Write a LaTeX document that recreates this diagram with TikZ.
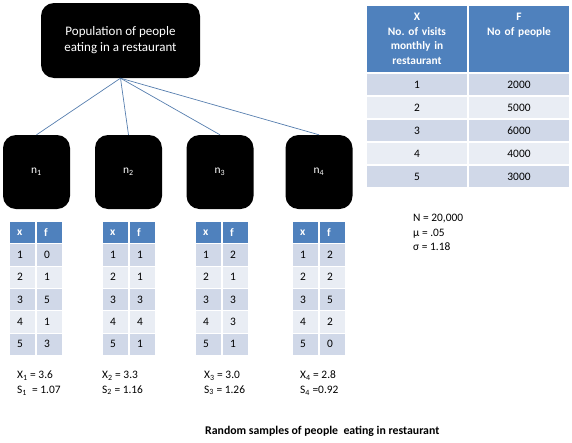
\documentclass[tikz,border=0pt]{standalone}
\usepackage{fontspec}
\setmainfont{Carlito}
\usetikzlibrary{positioning}
\definecolor{hdrblue}{RGB}{79,129,189}
\definecolor{rowdark}{RGB}{208,216,232}
\definecolor{rowlight}{RGB}{233,237,244}
\definecolor{linkblue}{RGB}{86,126,174}
\newcommand{\bodyfont}{\fontsize{11.4}{14.6}\selectfont}
\newcommand{\sub}[1]{\textsubscript{#1}}

% sample table: name, left edge, list of f values
\newcommand{\sampletab}[3]{
  \node[cell, hdr, anchor=north west] (#1x0) at (#2,221) {x};
  \node[cell, hdr, right=0pt of #1x0] (#1f0) {f};
  \foreach \v [count=\i] in {#3} {
    \ifodd\i \def\rowcol{rowdark}\else\def\rowcol{rowlight}\fi
    \node[cell, fill=\rowcol, anchor=north west] (#1x\i) at (#2,{221+22.3*\i}) {\i};
    \node[cell, fill=\rowcol, right=0pt of #1x\i] (#1f\i) {\v};
  }
}

\begin{document}
\begin{tikzpicture}[x=1pt,y=-1pt,
  bigbox/.style={fill=black,rounded corners=13pt,text=white,align=center},
  link/.style={draw=linkblue,line width=0.7pt},
  cell/.style={draw=white,line width=1pt,minimum height=22.3pt,inner xsep=7.5pt,
    inner ysep=0pt,text width=11pt,align=left,font=\bodyfont},
  hdr/.style={fill=hdrblue,text=white,font=\bodyfont\bfseries},
  bigcell/.style={draw=white,line width=1pt,minimum height=22pt,inner ysep=0pt,
    text width=101pt,inner xsep=0pt,align=center,font=\bodyfont},
  stat/.style={align=left,inner sep=0pt,font=\bodyfont}]

  \useasboundingbox (0,0) rectangle (572,442);

  \node[bigbox, minimum width=159pt, minimum height=75pt,
    font=\fontsize{13}{16}\selectfont] (pop) at (120.5,40.5)
    {Population of people\\eating in a restaurant};

  \node[bigbox, minimum width=67pt, minimum height=74pt, font=\bodyfont] (n1) at (36.5,172) {n\sub{1}};
  \node[bigbox, minimum width=67pt, minimum height=74pt, font=\bodyfont] (n2) at (128.5,172) {n\sub{2}};
  \node[bigbox, minimum width=67pt, minimum height=74pt, font=\bodyfont] (n3) at (220,172) {n\sub{3}};
  \node[bigbox, minimum width=67pt, minimum height=74pt, font=\bodyfont] (n4) at (319,172) {n\sub{4}};

  \path[link] (pop.south) edge (n1.north)
    edge (n2.north)
    edge (n3.north)
    edge (n4.north);

  % samples
  \sampletab{a}{9}{0,1,5,1,3}
  \sampletab{b}{102}{1,1,3,4,1}
  \sampletab{c}{195}{2,1,3,3,1}
  \sampletab{d}{292}{2,2,5,2,0}

  \node[stat, anchor=north west] (sa) at (17,371) {X\sub{1} = 3.6\\S\sub{1}\ \ = 1.07};
  \node[stat, anchor=north west] (sb) at (102,371) {X\sub{2} = 3.3\\S\sub{2} = 1.16};
  \node[stat, anchor=north west] (sc) at (204,371) {X\sub{3} = 3.0\\S\sub{3} = 1.26};
  \node[stat, anchor=north west] (sd) at (300,371) {X\sub{4} = 2.8\\S\sub{4} =0.92};

  % population table
  \node[bigcell, hdr, minimum height=67pt, anchor=north west] (px0) at (366,5)
    {X\\No.\ of visits\\monthly in\\restaurant};
  \node[bigcell, hdr, minimum height=67pt, right=0pt of px0] (pf0)
    {F\\No of people\\\mbox{}\\\mbox{}};
  \node[bigcell, fill=rowdark, below=0pt of px0] (px1) {1};
  \node[bigcell, fill=rowdark, right=0pt of px1] (pf1) {2000};
  \node[bigcell, fill=rowlight, below=0pt of px1] (px2) {2};
  \node[bigcell, fill=rowlight, right=0pt of px2] (pf2) {5000};
  \node[bigcell, fill=rowdark, below=0pt of px2] (px3) {3};
  \node[bigcell, fill=rowdark, right=0pt of px3] (pf3) {6000};
  \node[bigcell, fill=rowlight, below=0pt of px3] (px4) {4};
  \node[bigcell, fill=rowlight, right=0pt of px4] (pf4) {4000};
  \node[bigcell, fill=rowdark, below=0pt of px4] (px5) {5};
  \node[bigcell, fill=rowdark, right=0pt of px5] (pf5) {3000};

  \node[stat, anchor=north west] (pstat) at (413,214) {N = 20,000\\μ = .05\\σ = 1.18};

  \node[inner sep=0pt, anchor=west, font=\fontsize{11.8}{14}\selectfont\bfseries] (caption) at (205,431)
    {Random samples of people\ \ eating in restaurant};
\end{tikzpicture}
\end{document}
